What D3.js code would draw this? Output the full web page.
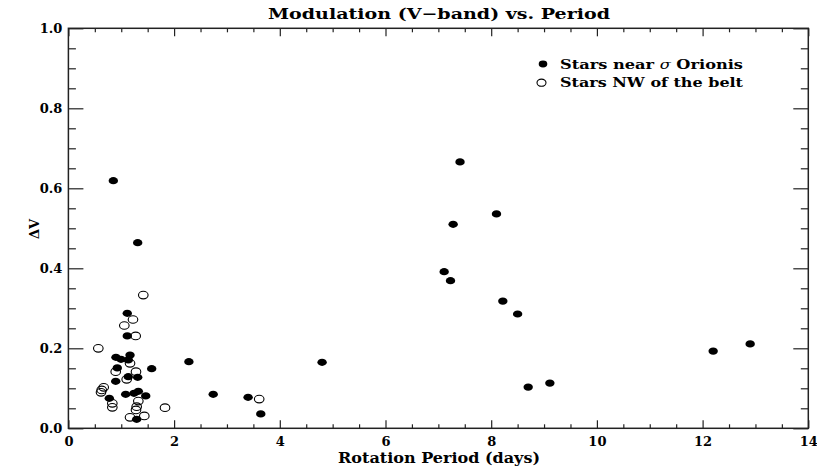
<!DOCTYPE html>
<html>
<head>
<meta charset="utf-8">
<script src="https://cdn.jsdelivr.net/npm/d3@7"></script>
<style>
  body { margin: 0; background: #fff; }
  text { font-family: "DejaVu Serif", "Liberation Serif", serif; fill: #000; }
</style>
</head>
<body>
<script>
// rotation period (days) and V-band modulation
const nearPeriod = [0.85, 1.311, 1.114, 1.114, 0.90, 0.995, 1.166, 1.133, 2.28, 1.576,
  0.925, 1.133, 1.311, 0.895, 1.323, 1.241, 1.084, 1.463, 0.774, 1.292,
  4.80, 2.74, 3.40, 3.64, 7.41, 8.10, 7.28, 7.11, 7.23, 8.22, 8.50, 8.70, 9.11, 12.20, 12.90];
const nearDV = [0.619, 0.464, 0.2875, 0.231, 0.1775, 0.1725, 0.183, 0.171, 0.1665, 0.149,
  0.151, 0.129, 0.1275, 0.1175, 0.0925, 0.0875, 0.085, 0.081, 0.075, 0.0225,
  0.165, 0.085, 0.0775, 0.036, 0.666, 0.536, 0.51, 0.3915, 0.369, 0.318, 0.2858, 0.103, 0.113, 0.193, 0.211];

const nwPeriod = [1.417, 1.058, 1.222, 1.273, 0.566, 1.166, 0.895, 1.279, 1.103, 0.668,
  0.630, 0.617, 0.831, 0.831, 1.323, 1.292, 1.279, 1.828, 1.166, 1.436, 3.61];
const nwDV = [0.333, 0.257, 0.272, 0.231, 0.200, 0.1625, 0.1415, 0.1415, 0.1225, 0.1025,
  0.096, 0.09, 0.0625, 0.0525, 0.068, 0.054, 0.046, 0.0515, 0.0275, 0.031, 0.073];

const xMajor = [0, 2, 4, 6, 8, 10, 12, 14];
const yMajor = [0, 0.2, 0.4, 0.6, 0.8, 1.0];
// legend text split so the sigma can be set in italic
const legendLabels = [["Stars near ", "\u03c3", " Orionis"], ["Stars NW of the belt"]];

const width = 817, height = 470;
const mLeft = 68.4, mRight = 808.3, mTop = 28.3, mBottom = 428.3;

const svg = d3.select("body").append("svg")
    .attr("width", width)
    .attr("height", height);

const x = d3.scaleLinear().domain([0, 14]).range([mLeft, mRight]);
const y = d3.scaleLinear().domain([0, 1]).range([mBottom, mTop]);

const xMinor = d3.range(0, 14.001, 0.5).filter(v => v % 2 !== 0);
const yMinor = d3.range(0, 1.0001, 0.05).filter(v => Math.abs(v * 5 - Math.round(v * 5)) > 1e-6);

// ticks on all four sides, pointing inward
function tickAxis(axis, transform, labels) {
    const g = svg.append("g").attr("transform", transform).call(axis);
    g.select(".domain").remove();
    g.selectAll("line").attr("stroke", "#222").attr("stroke-width", 1.2);
    if (!labels) g.selectAll("text").remove();
    return g;
}

const gx = tickAxis(d3.axisBottom(x).tickValues(xMajor).tickSize(-8).tickPadding(8).tickFormat(d3.format("d")),
    `translate(0,${mBottom})`, true);
tickAxis(d3.axisBottom(x).tickValues(xMinor).tickSize(-4), `translate(0,${mBottom})`, false);
tickAxis(d3.axisTop(x).tickValues(xMajor).tickSize(-8), `translate(0,${mTop})`, false);
tickAxis(d3.axisTop(x).tickValues(xMinor).tickSize(-4), `translate(0,${mTop})`, false);

const gy = tickAxis(d3.axisLeft(y).tickValues(yMajor).tickSize(-15).tickPadding(6).tickFormat(d3.format(".1f")),
    `translate(${mLeft},0)`, true);
tickAxis(d3.axisLeft(y).tickValues(yMinor).tickSize(-7.5), `translate(${mLeft},0)`, false);
tickAxis(d3.axisRight(y).tickValues(yMajor).tickSize(-15), `translate(${mRight},0)`, false);
tickAxis(d3.axisRight(y).tickValues(yMinor).tickSize(-7.5), `translate(${mRight},0)`, false);

[gx, gy].forEach(g => g.selectAll("text")
    .style("font-family", '"DejaVu Serif", serif')
    .style("font-size", "13px")
    .style("font-weight", "bold")
    .attr("fill", "#000"));

svg.append("rect")
    .attr("x", mLeft).attr("y", mTop)
    .attr("width", mRight - mLeft).attr("height", mBottom - mTop)
    .attr("fill", "none").attr("stroke", "#222").attr("stroke-width", 1.5);

// title and axis titles
svg.append("text")
    .attr("x", 439).attr("y", 19)
    .attr("text-anchor", "middle")
    .attr("textLength", 342).attr("lengthAdjust", "spacingAndGlyphs")
    .style("font-size", "15px").style("font-weight", "bold")
    .text("Modulation (V\u2212band) vs. Period");

svg.append("text")
    .attr("x", 439).attr("y", 463)
    .attr("text-anchor", "middle")
    .attr("textLength", 202).attr("lengthAdjust", "spacingAndGlyphs")
    .style("font-size", "14px").style("font-weight", "bold")
    .text("Rotation Period (days)");

svg.append("text")
    .attr("transform", "translate(39,229) rotate(-90)")
    .attr("text-anchor", "middle")
    .style("font-size", "13px").style("font-weight", "bold")
    .text("\u0394V");

// points
const near = nearPeriod.map((p, i) => ({p: p, v: nearDV[i]}));
const nw = nwPeriod.map((p, i) => ({p: p, v: nwDV[i]}));

svg.append("g").selectAll("ellipse")
    .data(nw)
    .enter().append("ellipse")
    .attr("cx", d => x(d.p)).attr("cy", d => y(d.v))
    .attr("rx", 4.8).attr("ry", 3.8)
    .attr("fill", "none").attr("stroke", "#000").attr("stroke-width", 1.1);

svg.append("g").selectAll("ellipse")
    .data(near)
    .enter().append("ellipse")
    .attr("cx", d => x(d.p)).attr("cy", d => y(d.v))
    .attr("rx", 4.7).attr("ry", 3.6)
    .attr("fill", "#000");

// legend
const legend = svg.append("g").attr("transform", "translate(543,64)");
legend.append("ellipse").attr("cx", 0).attr("cy", 0).attr("rx", 4.3).attr("ry", 3.4).attr("fill", "#000");
legend.append("ellipse").attr("cx", -1.5).attr("cy", 18.7).attr("rx", 4.5).attr("ry", 3.6)
    .attr("fill", "none").attr("stroke", "#000").attr("stroke-width", 1.1);
const labs = legend.selectAll("text.lab")
    .data(legendLabels)
    .enter().append("text")
    .attr("class", "lab")
    .attr("x", 17).attr("y", (d, i) => 4.5 + i * 18.7)
    .attr("textLength", 183).attr("lengthAdjust", "spacingAndGlyphs")
    .style("font-size", "12.5px").style("font-weight", "bold");
labs.selectAll("tspan")
    .data(d => d)
    .enter().append("tspan")
    .style("font-style", t => t === "\u03c3" ? "italic" : "normal")
    .style("font-weight", t => t === "\u03c3" ? "normal" : "bold")
    .text(t => t);
</script>
</body>
</html>
